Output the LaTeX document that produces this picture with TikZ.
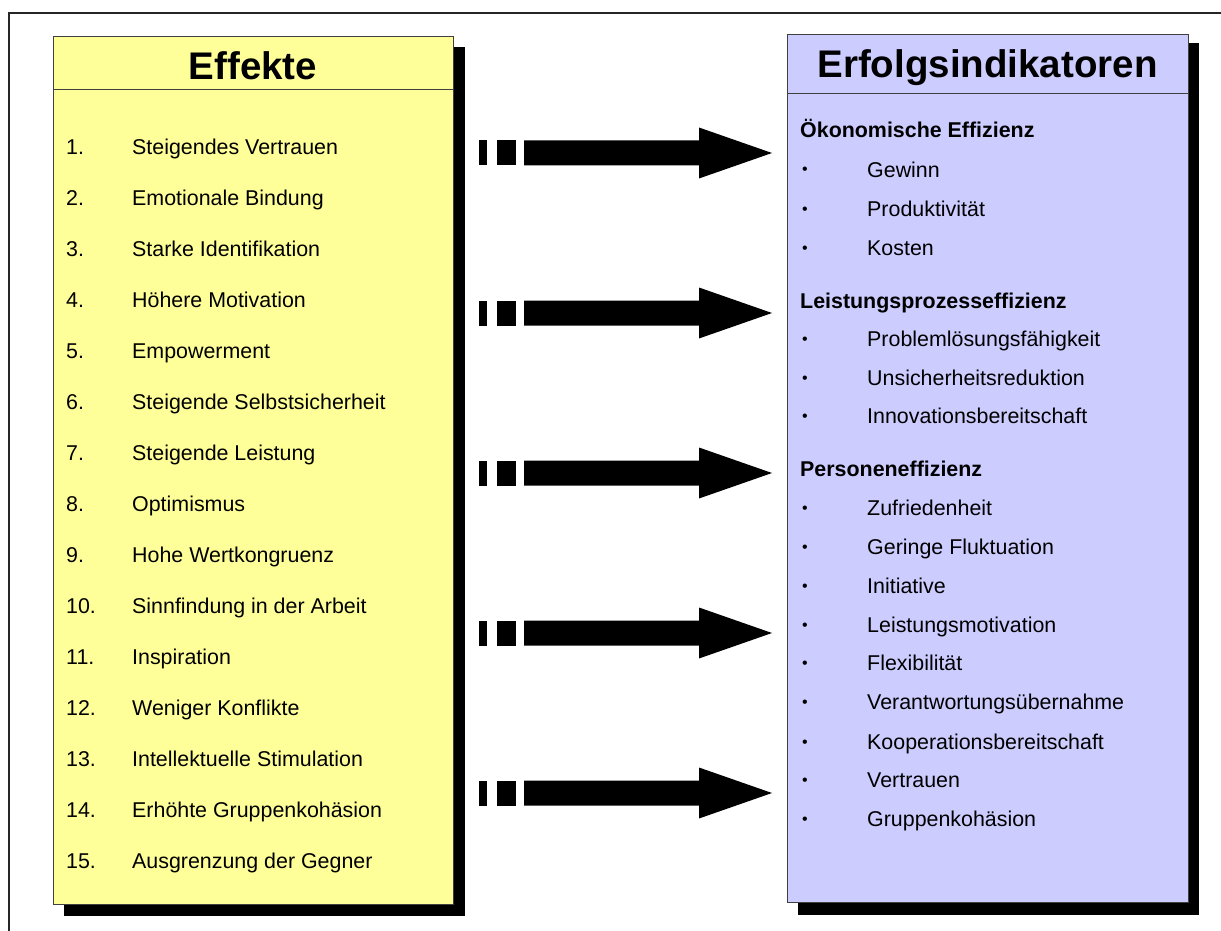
\documentclass[tikz,border=0pt]{standalone}
\usepackage{fontspec}
\setmainfont{Liberation Sans}
\definecolor{effyellow}{HTML}{FFFF99}
\definecolor{indblue}{HTML}{CCCCFF}
\definecolor{edgegray}{HTML}{404040}
\tikzset{
  panel/.style={draw=edgegray, line width=1pt},
  panelshadow/.style={fill=black, draw=none},
  headtext/.style={font=\bfseries\fontsize{38.5}{42}\selectfont, anchor=base, inner sep=0pt},
  itemtext/.style={font=\fontsize{21.4}{24}\selectfont, anchor=base west, inner sep=0pt},
  bullettext/.style={font=\fontsize{16}{18}\selectfont, anchor=base west, inner sep=0pt},
  grouptext/.style={font=\bfseries\fontsize{21.4}{24}\selectfont, anchor=base west, inner sep=0pt},
  blockarrow/.pic={
    \fill (-293,-12.5) rectangle (-285,12.5);
    \fill (-275,-12.5) rectangle (-256,12.5);
    \fill (-248,-12.5) -- (-73,-12.5) -- (-73,-25.5) -- (0,0) -- (-73,25.5) -- (-73,12.5) -- (-248,12.5) -- cycle;
  }
}
\begin{document}
\begin{tikzpicture}[x=1pt,y=-1pt]
\useasboundingbox (0,0) rectangle (1221,931);
\clip (0,0) rectangle (1221,931);
\fill[white] (0,0) rectangle (1221,931);
% outer frame (only top and left edges are visible)
\draw[line width=1.3pt, black!85] (9,13) rectangle (1240,950);

% left panel
\fill[panelshadow] (64,47) rectangle (465,916);
\node[panel, fill=effyellow, minimum width=400pt, minimum height=867pt, inner sep=0pt] (effekte) at (253,470.5) {};
\draw[edgegray, line width=1pt] (53,90) -- (453,90);
\node[headtext] (effhead) at (253,80) {Effekte};

% right panel
\fill[panelshadow] (798,43) rectangle (1199,915);
\node[panel, fill=indblue, minimum width=401pt, minimum height=867pt, inner sep=0pt] (indik) at (987.5,468.5) {};
\draw[edgegray, line width=1pt] (787,94) -- (1188,94);
\node[headtext] (indhead) at (987.5,78) {Erfolgsindikatoren};

% left items
\foreach \n/\t [count=\i from 0] in {
  1./Steigendes Vertrauen,
  2./Emotionale Bindung,
  3./Starke Identifikation,
  4./Höhere Motivation,
  5./Empowerment,
  6./Steigende Selbstsicherheit,
  7./Steigende Leistung,
  8./Optimismus,
  9./Hohe Wertkongruenz,
  10./Sinnfindung in der Arbeit,
  11./Inspiration,
  12./Weniger Konflikte,
  13./Intellektuelle Stimulation,
  14./Erhöhte Gruppenkohäsion,
  15./Ausgrenzung der Gegner}{
  \node[itemtext] (num\i) at (66,154+51*\i) {\n};
  \node[itemtext] (eff\i) at (132,154+51*\i) {\t};
}

% right groups
\node[grouptext] (g1) at (800,138) {Ökonomische Effizienz};
\node[grouptext] (g2) at (800,308) {Leistungsprozesseffizienz};
\node[grouptext] (g3) at (800,476) {Personeneffizienz};
\foreach \y/\t [count=\i] in {
  177/Gewinn,
  216/Produktivität,
  255/Kosten,
  346/Problemlösungsfähigkeit,
  385/Unsicherheitsreduktion,
  423/Innovationsbereitschaft,
  515/Zufriedenheit,
  554/Geringe Fluktuation,
  593/Initiative,
  632/Leistungsmotivation,
  670/Flexibilität,
  709/Verantwortungsübernahme,
  749/Kooperationsbereitschaft,
  787/Vertrauen,
  826/Gruppenkohäsion}{
  \node[bullettext] (bul\i) at (802,\y-2) {•};
  \node[itemtext] (ind\i) at (867,\y) {\t};
}

% arrows
\foreach \y [count=\i] in {153,313,473,633,793}{
  \pic (arr\i) at (772,\y) {blockarrow};
}
\end{tikzpicture}
\end{document}
